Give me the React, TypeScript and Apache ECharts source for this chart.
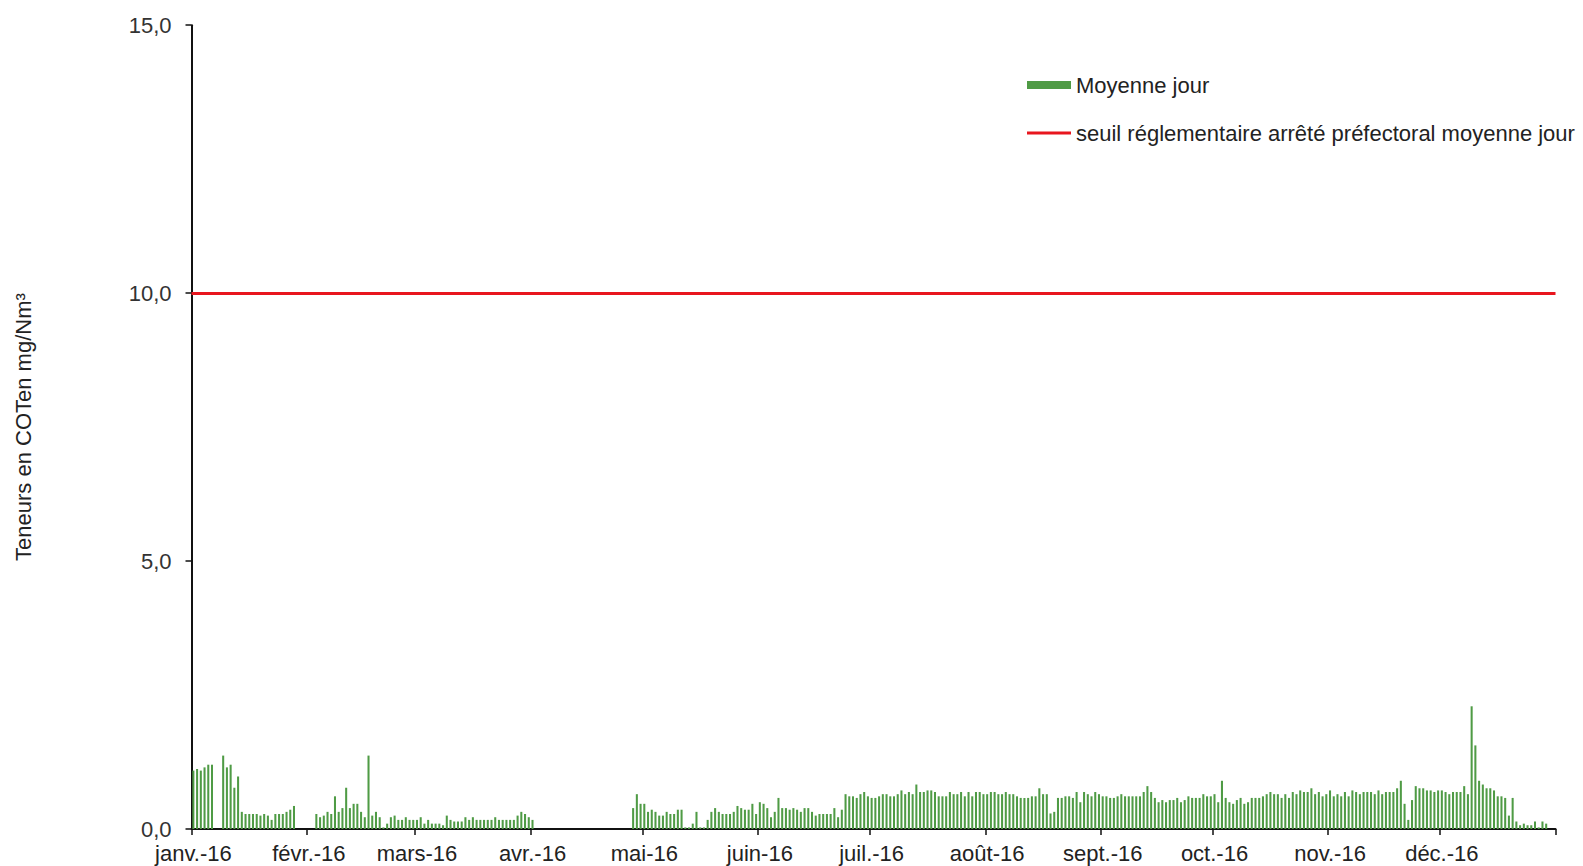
import React, { useEffect, useRef } from "react";
import * as echarts from "echarts";

// ---- Data (daily averages 2016, mg/Nm3; null = no measurement) ----
const MONTH_LABELS = ["janv.-16", "févr.-16", "mars-16", "avr.-16", "mai-16", "juin-16", "juil.-16", "août-16", "sept.-16", "oct.-16", "nov.-16", "déc.-16"];
const MONTH_LENGTHS = [31, 29, 31, 30, 31, 30, 31, 31, 30, 31, 30, 31];

const JAN = [1.09, 1.12, 1.09, 1.15, 1.2, 1.2, null, null, 1.37, 1.15, 1.2, 0.77, 0.98, 0.32, 0.28, 0.28, 0.28, 0.28, 0.25, 0.28, 0.25, 0.17, 0.28, 0.28, 0.28, 0.32, 0.36, 0.43, null, null, null];
const FEB = [null, null, 0.28, 0.22, 0.25, 0.32, 0.28, 0.61, 0.32, 0.39, 0.77, 0.39, 0.47, 0.47, 0.32, 0.22, 1.37, 0.25, 0.32, 0.22, 0.03, 0.1, 0.22, 0.25, 0.17, 0.17, 0.22, 0.17, 0.17];
const MAR = [0.17, 0.22, 0.1, 0.17, 0.1, 0.1, 0.1, 0.07, 0.25, 0.17, 0.14, 0.14, 0.14, 0.22, 0.17, 0.22, 0.17, 0.17, 0.17, 0.17, 0.17, 0.22, 0.17, 0.17, 0.17, 0.17, 0.17, 0.25, 0.32, 0.28, 0.22];
const APR = [0.17, null, null, null, null, null, null, null, null, null, null, null, null, null, null, null, null, null, null, null, null, null, null, null, null, null, null, 0.39, 0.65, 0.47];
const MAY = [0.47, 0.32, 0.36, 0.32, 0.25, 0.25, 0.32, 0.28, 0.28, 0.36, 0.36, 0.03, 0.03, 0.1, 0.32, 0.03, 0.03, 0.17, 0.32, 0.39, 0.32, 0.28, 0.28, 0.28, 0.32, 0.43, 0.39, 0.36, 0.36, 0.47, 0.28];
const JUN = [0.5, 0.47, 0.39, 0.22, 0.32, 0.58, 0.39, 0.39, 0.36, 0.39, 0.36, 0.32, 0.39, 0.39, 0.32, 0.25, 0.28, 0.28, 0.28, 0.28, 0.39, 0.22, 0.36, 0.65, 0.61, 0.61, 0.58, 0.65, 0.69, 0.61];
const JUL = [0.58, 0.58, 0.61, 0.65, 0.65, 0.61, 0.61, 0.65, 0.72, 0.65, 0.69, 0.65, 0.83, 0.69, 0.69, 0.72, 0.72, 0.69, 0.61, 0.61, 0.61, 0.69, 0.65, 0.65, 0.69, 0.61, 0.69, 0.61, 0.69, 0.69, 0.65];
const AUG = [0.65, 0.69, 0.69, 0.65, 0.65, 0.69, 0.65, 0.65, 0.61, 0.58, 0.58, 0.58, 0.61, 0.61, 0.76, 0.65, 0.65, 0.29, 0.32, 0.58, 0.58, 0.61, 0.61, 0.58, 0.69, 0.5, 0.69, 0.65, 0.61, 0.69, 0.65];
const SEP = [0.61, 0.61, 0.58, 0.58, 0.61, 0.65, 0.61, 0.61, 0.61, 0.61, 0.61, 0.69, 0.8, 0.69, 0.58, 0.5, 0.54, 0.5, 0.54, 0.54, 0.58, 0.5, 0.54, 0.61, 0.58, 0.58, 0.58, 0.65, 0.61, 0.61];
const OCT = [0.65, 0.5, 0.9, 0.58, 0.5, 0.47, 0.54, 0.58, 0.47, 0.5, 0.58, 0.58, 0.58, 0.61, 0.65, 0.69, 0.65, 0.65, 0.58, 0.65, 0.58, 0.69, 0.65, 0.72, 0.69, 0.69, 0.76, 0.65, 0.69, 0.61, 0.65];
const NOV = [0.72, 0.61, 0.65, 0.61, 0.69, 0.61, 0.72, 0.69, 0.65, 0.69, 0.69, 0.69, 0.65, 0.72, 0.65, 0.69, 0.69, 0.69, 0.76, 0.9, 0.47, 0.17, 0.54, 0.8, 0.76, 0.76, 0.72, 0.72, 0.69, 0.72];
const DEC = [0.72, 0.69, 0.65, 0.69, 0.69, 0.69, 0.8, 0.65, 2.29, 1.56, 0.9, 0.83, 0.76, 0.76, 0.72, 0.61, 0.61, 0.58, 0.25, 0.58, 0.14, 0.07, 0.1, 0.07, 0.07, 0.14, 0.03, 0.14, 0.1, null, null];

const SEUIL = 10;
const Y_TICKS = [0, 5, 10, 15];
const SERIES_BAR = "Moyenne jour";
const SERIES_SEUIL = "seuil réglementaire arrêté préfectoral moyenne jour";
const Y_TITLE = "Teneurs en COTen mg/Nm³";

const MONTHS_DATA = [JAN, FEB, MAR, APR, MAY, JUN, JUL, AUG, SEP, OCT, NOV, DEC];

export default function App() {
  const ref = useRef<HTMLDivElement>(null);

  useEffect(() => {
    document.body.style.margin = "0";
    if (!ref.current) return;
    const chart = echarts.init(ref.current, null, { renderer: "svg" });

    const categories: string[] = [];
    const daily: (number | null)[] = [];
    const labelAt: Record<number, string> = {};
    MONTH_LENGTHS.forEach((len, m) => {
      labelAt[categories.length] = MONTH_LABELS[m];
      for (let d = 0; d < len; d++) {
        categories.push(`${d + 1}/${m + 1}/2016`);
        const v = MONTHS_DATA[m][d];
        daily.push(v === undefined ? null : v);
      }
    });
    const isMonthStart = (i: number) => labelAt[i] !== undefined;

    const font = "'Liberation Sans', Arial, sans-serif";
    const axisColor = "#111111";

    chart.setOption({
      animation: false,
      backgroundColor: "#ffffff",
      grid: {
        left: 191.5,
        right: 27.5,
        top: 25.2,
        bottom: 37,
        containLabel: false,
        outerBoundsMode: "none",
      },
      legend: [
        {
          data: [{ name: SERIES_BAR, icon: "rect" }],
          left: 1022,
          top: 69,
          orient: "vertical",
          itemWidth: 44,
          itemHeight: 8,
          textStyle: { fontSize: 22, color: "#222", fontFamily: font },
          selectedMode: false,
        },
        {
          data: [{ name: SERIES_SEUIL, icon: "rect" }],
          left: 1022,
          top: 117,
          orient: "vertical",
          itemWidth: 44,
          itemHeight: 3,
          textStyle: { fontSize: 22, color: "#222", fontFamily: font },
          selectedMode: false,
        },
      ],
      xAxis: {
        type: "category",
        data: categories,
        boundaryGap: true,
        axisLine: { show: true, lineStyle: { color: axisColor, width: 2 } },
        axisTick: {
          show: true,
          interval: (i: number) => isMonthStart(i),
          length: 6,
          lineStyle: { color: axisColor, width: 1.5 },
        },
        axisLabel: {
          interval: (i: number) => isMonthStart(i),
          formatter: (_v: string, i: number) => labelAt[i] ?? "",
          fontSize: 22,
          color: "#222",
          fontFamily: font,
          margin: 13,
        },
        splitLine: { show: false },
      },
      yAxis: {
        type: "value",
        min: Y_TICKS[0],
        max: Y_TICKS[Y_TICKS.length - 1],
        interval: Y_TICKS[1] - Y_TICKS[0],
        name: Y_TITLE,
        nameLocation: "middle",
        nameRotate: 90,
        nameGap: 157,
        nameTextStyle: { fontSize: 22, color: "#222", fontFamily: font },
        axisLine: { show: true, lineStyle: { color: axisColor, width: 2 } },
        axisTick: { show: true, length: 6, lineStyle: { color: axisColor, width: 1.5 } },
        axisLabel: {
          formatter: (v: number) => v.toFixed(1).replace(".", ","),
          fontSize: 22,
          color: "#333",
          fontFamily: font,
          margin: 20,
        },
        splitLine: { show: false },
      },
      series: [
        {
          name: SERIES_BAR,
          type: "bar",
          data: daily,
          barWidth: "55%",
          itemStyle: { color: "#4F9B45" },
        },
        {
          name: SERIES_SEUIL,
          type: "line",
          data: [],
          itemStyle: { color: "#E8161E" },
          lineStyle: { color: "#E8161E", width: 3 },
          markLine: {
            silent: true,
            symbol: ["none", "none"],
            label: { show: false },
            lineStyle: { color: "#E8161E", width: 3, type: "solid" },
            data: [{ yAxis: SEUIL }],
          },
        },
      ],
    });

    return () => chart.dispose();
  }, []);

  return <div ref={ref} style={{ width: 1583, height: 866 }} />;
}
